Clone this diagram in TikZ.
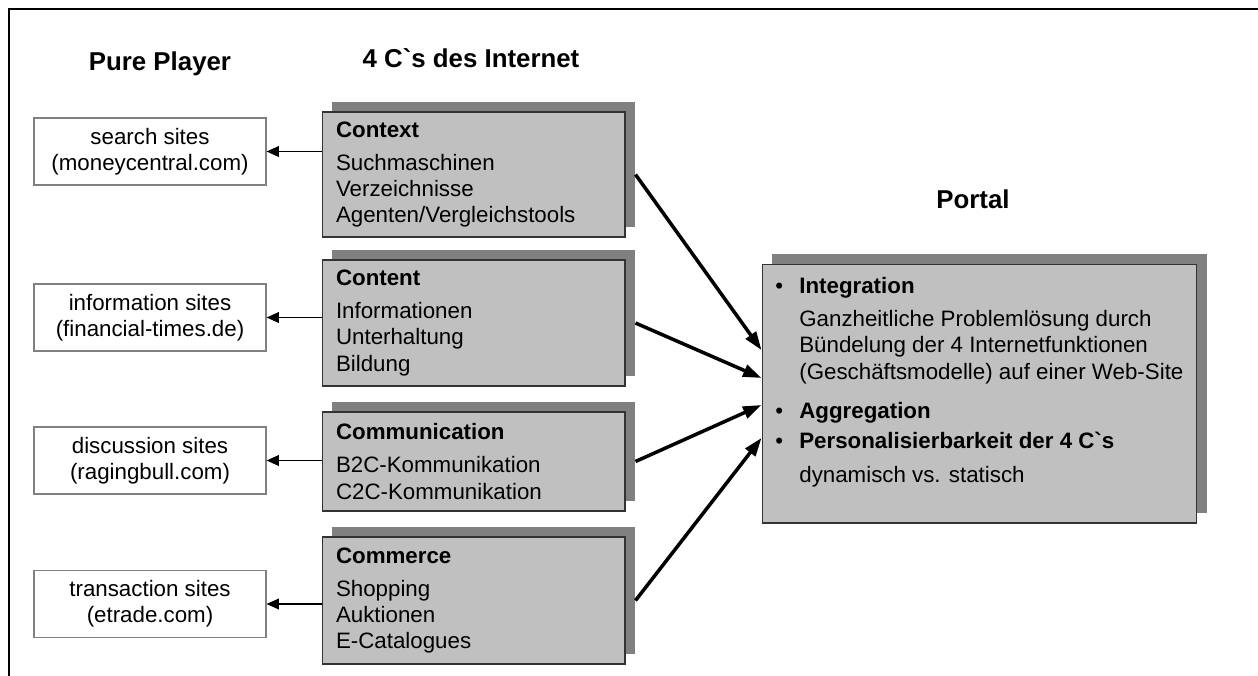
\documentclass[tikz,border=0pt]{standalone}
\usepackage{fontspec}
\setmainfont{Liberation Sans}
\usetikzlibrary{arrows.meta, shadows}
\definecolor{boxfill}{HTML}{C0C0C0}
\definecolor{boxshade}{HTML}{808080}
\definecolor{siteline}{HTML}{808080}

\begin{document}
\begin{tikzpicture}[x=0.02cm, y=-0.02cm,
    font=\fontsize{12.7}{15}\selectfont,
    cbox/.style={draw=black!80, fill=boxfill, line width=0.6pt,
      general shadow={fill=boxshade, shadow xshift=0.2cm, shadow yshift=0.2cm}},
    cnode/.style={cbox, align=left, text width=5.5cm, minimum width=6.06cm},
    site/.style={draw=siteline, line width=0.6pt, fill=white, align=center,
      minimum width=4.64cm, minimum height=1.34cm},
    head/.style={font=\fontsize{14.7}{17}\selectfont\bfseries, anchor=base},
    tosite/.style={-{Triangle[length=7pt, width=6pt]}, line width=1pt},
    toportal/.style={-{Triangle[length=10.5pt, width=7pt]}, line width=2pt}]
\useasboundingbox (0,0) rectangle (1258,676);
\draw[line width=1pt] (9,676) -- (9,9) -- (1258,9);

% headings
\node[head] (pure)   at (160,70.5) {Pure Player};
\node[head] (fourc)  at (471,67)   {4 C\textasciigrave s des Internet};
\node[head] (ptitle) at (973,208)  {Portal};

% pure player sites
\node[site] (search)   at (150,151.5) {search sites\\(moneycentral.com)};
\node[site] (info)     at (150,317.5) {information sites\\(financial-times.de)};
\node[site] (discuss)  at (150,460.5) {discussion sites\\(ragingbull.com)};
\node[site] (trans)    at (150,604)   {transaction sites\\(etrade.com)};

% the 4 C's
\node[cnode, minimum height=2.5cm] (ctx) at (473.5,174.5)
  {\textbf{Context}\\[3.7pt]Suchmaschinen\\Verzeichnisse\\Agenten/Vergleichstools};
\node[cnode, minimum height=2.52cm] (cnt) at (473.5,323)
  {\textbf{Content}\\[3.7pt]Informationen\\Unterhaltung\\Bildung};
\node[cnode, minimum height=1.98cm] (comm) at (473.5,461.5)
  {\textbf{Communication}\\[3.7pt]B2C-Kommunikation\\C2C-Kommunikation};
\node[cnode, minimum height=2.54cm] (comc) at (473.5,600.5)
  {\textbf{Commerce}\\[3.7pt]Shopping\\Auktionen\\E-Catalogues};

% portal
\node[cbox, minimum width=8.7cm, minimum height=5.18cm] (portal) at (979.5,393.5) {};
\node[anchor=north west, align=left, inner sep=0pt] (ptext) at (775,277)
  {\makebox[0.48cm][l]{\textbullet}\textbf{Integration}\\[3.7pt]
   \hspace*{0.48cm}Ganzheitliche Problemlösung durch\\
   \hspace*{0.48cm}Bündelung der 4 Internetfunktionen\\
   \hspace*{0.48cm}(Geschäftsmodelle) auf einer Web-Site\\[7.4pt]
   \makebox[0.48cm][l]{\textbullet}\textbf{Aggregation}\\[2.3pt]
   \makebox[0.48cm][l]{\textbullet}\textbf{Personalisierbarkeit der 4 C\textasciigrave s}\\[4.3pt]
   \hspace*{0.48cm}dynamisch vs. statisch};

% arrows
\draw[tosite] (ctx.west |- search.east)  -- (search.east);
\draw[tosite] (cnt.west |- info.east)    -- (info.east);
\draw[tosite] (comm.west |- discuss.east) -- (discuss.east);
\draw[tosite] (comc.west |- trans.east)  -- (trans.east);
\draw[toportal] ([xshift=0.2cm]ctx.east)  -- ([yshift=0.87cm]portal.west);
\draw[toportal] ([xshift=0.2cm]cnt.east)  -- ([yshift=0.31cm]portal.west);
\draw[toportal] ([xshift=0.2cm]comm.east) -- ([yshift=-0.23cm]portal.west);
\draw[toportal] ([xshift=0.2cm]comc.east) -- ([yshift=-0.89cm]portal.west);
\end{tikzpicture}
\end{document}
